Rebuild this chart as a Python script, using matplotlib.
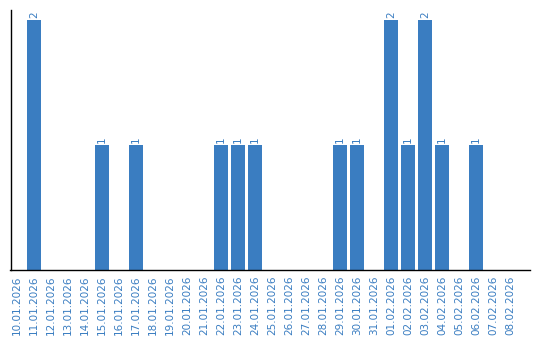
import matplotlib
matplotlib.use("Agg")
import matplotlib.pyplot as plt
import numpy as np

dates = ["10.01.2026", "11.01.2026", "12.01.2026", "13.01.2026", "14.01.2026",
         "15.01.2026", "16.01.2026", "17.01.2026", "18.01.2026", "19.01.2026",
         "20.01.2026", "21.01.2026", "22.01.2026", "23.01.2026", "24.01.2026",
         "25.01.2026", "26.01.2026", "27.01.2026", "28.01.2026", "29.01.2026",
         "30.01.2026", "31.01.2026", "01.02.2026", "02.02.2026", "03.02.2026",
         "04.02.2026", "05.02.2026", "06.02.2026", "07.02.2026", "08.02.2026"]
counts = [0, 2, 0, 0, 0, 1, 0, 1, 0, 0,
          0, 0, 1, 1, 1, 0, 0, 0, 0, 1,
          1, 0, 2, 1, 2, 1, 0, 1, 0, 0]

color = "#3a7dc1"
fig = plt.figure(figsize=(5.4, 3.4), dpi=100)
ax = fig.add_axes([10.5/540, 70/340, (530-10.5)/540, 260/340])
x = np.arange(len(dates))
bars = ax.bar(x, counts, width=0.82, color=color)
for xi, v in zip(x, counts):
    if v > 0:
        ax.text(xi, v + 0.02, str(v), rotation=90, ha="center", va="bottom",
                color=color, fontsize=7.5)
ax.set_xlim(-0.38, 30.18)
ax.set_ylim(0, 2.08)
ax.set_xticks(x)
ax.set_xticklabels(dates, rotation=90, color=color, fontsize=7.5)
ax.tick_params(axis="x", length=0, pad=4)
ax.set_yticks([])
for s in ["top", "right"]:
    ax.spines[s].set_visible(False)
for s in ["left", "bottom"]:
    ax.spines[s].set_linewidth(1.0)
fig.savefig("out.png", dpi=100)
